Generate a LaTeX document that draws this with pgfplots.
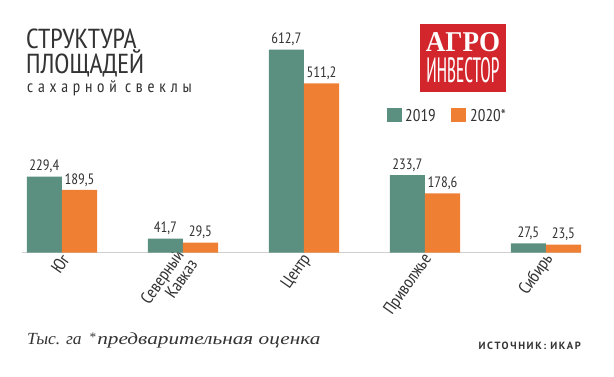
\documentclass[border=0pt]{standalone}
\usepackage{fontspec}
\setmainfont{PT Sans Narrow}
\newfontfamily\serifit{Liberation Serif}
\newfontfamily\ptsans{PT Sans}
\usepackage{pgfplots}
\pgfplotsset{compat=1.18}
\definecolor{cgreen}{HTML}{5B8F7F}
\definecolor{corange}{HTML}{EE7F33}
\definecolor{cred}{HTML}{D2262C}
\definecolor{cgray}{HTML}{CFCFCF}
\definecolor{ctext}{HTML}{333333}
\begin{document}
\begin{tikzpicture}[x=1pt,y=1pt]
\path[use as bounding box] (0,0) rectangle (614,376);
\begin{axis}[
  at={(22pt,123.5pt)}, anchor=south west, scale only axis,
  width=559pt, height=231.7pt,
  xmin=-0.33, xmax=4.29, ymin=0, ymax=700,
  ybar=0pt, bar width=0.29,
  axis y line=none, axis x line*=bottom,
  x axis line style={cgray, line width=1.6pt, -},
  xtick={0,1,2,3,4},
  xticklabels={Юг, {Северный\\Кавказ}, Центр, Приволжье, Сибирь},
  xticklabel style={rotate=55, anchor=east, align=right, inner sep=1pt, yshift=-5pt,
    font=\fontsize{17.5}{15}\selectfont, text=ctext},
  major tick length=0pt,
  clip=false,
  nodes near coords,
  nodes near coords style={font=\fontsize{15}{14}\selectfont, text=ctext},
  /pgf/number format/.cd, use comma, fixed, fixed zerofill, precision=1, assume math mode=true,
]
\addplot[fill=cgreen, draw=none] coordinates {(0,229.4) (1,41.7) (2,612.7) (3,233.7) (4,27.5)};
\addplot[fill=corange, draw=none] coordinates {(0,189.5) (1,29.5) (2,511.2) (3,178.6) (4,23.5)};
\end{axis}
% title
\node[anchor=base west, inner sep=0, text=ctext, font=\fontsize{27.5}{28}\selectfont] at (26,328) {СТРУКТУРА};
\node[anchor=base west, inner sep=0, text=ctext, font=\fontsize{27.5}{28}\selectfont] at (26,303) {ПЛОЩАДЕЙ};
\node[anchor=base west, inner sep=0, text=ctext, font=\fontsize{17}{17}\selectfont\addfontfeature{LetterSpace=28}] at (27,284) {сахарной свеклы};
% logo
\fill[cred] (420,284) rectangle (506,352);
\node[anchor=base, inner sep=0, text=white] at (463,324) {\resizebox{74pt}{19pt}{\serifit\bfseries АГРО}};
\node[anchor=base, inner sep=0, text=white] at (463,294) {\resizebox{73pt}{25pt}{ИНВЕСТОР}};
% legend
\fill[cgreen] (387,254) rectangle (402,268);
\node[anchor=base west, inner sep=0, text=ctext, font=\fontsize{17}{17}\selectfont] at (405,255) {2019};
\fill[corange] (451,254) rectangle (466,268);
\node[anchor=base west, inner sep=0, text=ctext, font=\fontsize{17}{17}\selectfont] at (470,255) {2020*};
% footer
\node[anchor=base west, inner sep=0, text=ctext, font=\serifit\itshape\fontsize{17}{17}\selectfont, xscale=1.03] at (27,32) {Тыс. га};
\node[anchor=base west, inner sep=0, text=ctext, font=\serifit\itshape\fontsize{13}{13}\selectfont] at (89,35) {*};
\node[anchor=base west, inner sep=0, text=ctext, font=\serifit\itshape\fontsize{17}{17}\selectfont, xscale=1.25] at (97,32) {предварительная оценка};
\node[anchor=base east, inner sep=0, text=ctext, font=\ptsans\bfseries\fontsize{10.5}{10}\selectfont\addfontfeature{LetterSpace=15}] at (581,27) {ИСТОЧНИК: ИКАР};
\end{tikzpicture}
\end{document}
